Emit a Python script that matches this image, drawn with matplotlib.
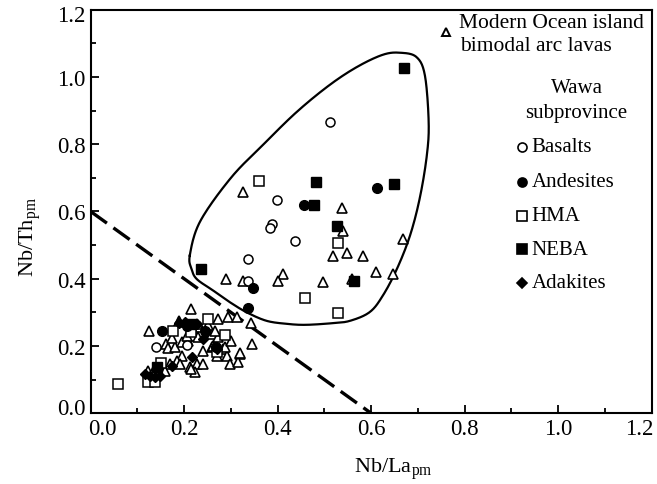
import numpy as np
import matplotlib
matplotlib.use("Agg")
import matplotlib.pyplot as plt
import matplotlib.transforms as mtransforms

plt.rcParams['font.family'] = ['Liberation Serif', 'DejaVu Serif']
plt.rcParams['mathtext.fontset'] = 'custom'
plt.rcParams['mathtext.rm'] = 'Liberation Serif'
plt.rcParams['mathtext.it'] = 'Liberation Serif:italic'

# --- data (Nb/La_pm, Nb/Th_pm) ---
arc_x = [0.325, 0.537, 0.540, 0.669, 0.519, 0.548, 0.583, 0.610, 0.647, 0.558,
         0.412, 0.401, 0.496, 0.289, 0.325,
         0.342, 0.346, 0.215, 0.190, 0.273, 0.293, 0.312, 0.125, 0.162, 0.166,
         0.180, 0.195, 0.209, 0.219, 0.195, 0.184, 0.191, 0.216, 0.234, 0.230,
         0.259, 0.273, 0.259, 0.284, 0.291, 0.319, 0.298, 0.316, 0.227, 0.241,
         0.212, 0.223, 0.270, 0.287, 0.262, 0.170, 0.159, 0.123, 0.189, 0.227,
         0.215, 0.320, 0.250, 0.205, 0.240, 0.145, 0.135, 0.300, 0.265, 0.175]
arc_y = [0.659, 0.610, 0.543, 0.518, 0.467, 0.477, 0.467, 0.421, 0.414, 0.399,
         0.414, 0.394, 0.389, 0.399, 0.394,
         0.268, 0.206, 0.310, 0.275, 0.280, 0.285, 0.285, 0.246, 0.206, 0.193,
         0.196, 0.211, 0.216, 0.231, 0.171, 0.156, 0.147, 0.246, 0.256, 0.226,
         0.236, 0.226, 0.196, 0.191, 0.171, 0.176, 0.147, 0.152, 0.147, 0.147,
         0.137, 0.122, 0.171, 0.196, 0.201, 0.147, 0.127, 0.127, 0.270, 0.266,
         0.132, 0.179, 0.262, 0.230, 0.185, 0.120, 0.128, 0.215, 0.245, 0.225]

basalt_x = [0.512, 0.399, 0.387, 0.384, 0.436, 0.336, 0.336, 0.139, 0.206]
basalt_y = [0.865, 0.634, 0.563, 0.551, 0.511, 0.459, 0.392, 0.196, 0.202]

andesite_x = [0.457, 0.612, 0.348, 0.336, 0.153, 0.205, 0.245, 0.268]
andesite_y = [0.619, 0.670, 0.372, 0.313, 0.244, 0.260, 0.245, 0.197]

hma_x = [0.359, 0.528, 0.458, 0.528, 0.177, 0.215, 0.252, 0.287, 0.270,
         0.150, 0.123, 0.138, 0.059]
hma_y = [0.690, 0.506, 0.342, 0.297, 0.244, 0.241, 0.280, 0.233, 0.181,
         0.150, 0.092, 0.094, 0.087]

neba_x = [0.671, 0.482, 0.478, 0.649, 0.526, 0.563, 0.237, 0.141, 0.215]
neba_y = [1.027, 0.687, 0.619, 0.681, 0.558, 0.392, 0.428, 0.137, 0.265]

adakite_x = [0.116, 0.127, 0.138, 0.148, 0.173, 0.216, 0.270, 0.241, 0.247,
             0.202, 0.189, 0.227]
adakite_y = [0.117, 0.112, 0.107, 0.112, 0.142, 0.166, 0.191, 0.221, 0.243,
             0.272, 0.268, 0.266]

# field outline of the modern arc lavas
env_x = [0.212, 0.216, 0.227, 0.262, 0.298, 0.334, 0.376, 0.419, 0.460, 0.518,
         0.555, 0.597, 0.625, 0.655, 0.683, 0.704, 0.719, 0.723, 0.715, 0.697,
         0.662, 0.625, 0.570, 0.510, 0.440, 0.370, 0.300, 0.234]
env_y = [0.469, 0.429, 0.399, 0.365, 0.330, 0.300, 0.275, 0.266, 0.263, 0.268,
         0.275, 0.301, 0.350, 0.429, 0.528, 0.640, 0.766, 0.865, 1.004, 1.059,
         1.072, 1.066, 1.030, 0.975, 0.895, 0.800, 0.700, 0.570]

# dividing line
div_x = [0.0, 0.6]
div_y = [0.6, 0.0]

ticks = [0.0, 0.2, 0.4, 0.6, 0.8, 1.0, 1.2]
tick_labels = ['0.0', '0.2', '0.4', '0.6', '0.8', '1.0', '1.2']


def closed_spline(x, y, n=20):
    # Catmull-Rom through the outline points, closed
    p = np.column_stack([x, y])
    m = len(p)
    out = []
    for i in range(m):
        p0, p1, p2, p3 = p[i - 1], p[i], p[(i + 1) % m], p[(i + 2) % m]
        t = np.linspace(0, 1, n, endpoint=False)[:, None]
        seg = 0.5 * ((2 * p1) + (-p0 + p2) * t +
                     (2 * p0 - 5 * p1 + 4 * p2 - p3) * t ** 2 +
                     (-p0 + 3 * p1 - 3 * p2 + p3) * t ** 3)
        out.append(seg)
    out.append(p[:1])
    out = np.vstack(out)
    return out[:, 0], out[:, 1]


fig = plt.figure(figsize=(6.57, 4.85), dpi=100)
ax = fig.add_axes([0.138, 0.1458, 0.8539, 0.8322])

ex, ey = closed_spline(env_x, env_y)
ax.plot(ex, ey, color='black', lw=1.6, zorder=2)
ax.plot(div_x, div_y, color='black', lw=2.4, dashes=(6, 2.4), zorder=2)

ms = 7
ax.plot(arc_x, arc_y, '^', ms=ms, mfc='white', mec='black', mew=1.2, ls='none', zorder=3)
ax.plot(basalt_x, basalt_y, 'o', ms=ms - 0.5, mfc='white', mec='black', mew=1.1, ls='none', zorder=4)
ax.plot(hma_x, hma_y, 's', ms=ms - 0.5, mfc='white', mec='black', mew=1.1, ls='none', zorder=4)
ax.plot(andesite_x, andesite_y, 'o', ms=ms, color='black', ls='none', zorder=5)
ax.plot(neba_x, neba_y, 's', ms=ms - 0.5, color='black', ls='none', zorder=5)
ax.plot(adakite_x, adakite_y, 'D', ms=ms - 1.5, color='black', ls='none', zorder=5)

ax.set_xlim(0.0, 1.2)
ax.set_ylim(0.0, 1.2)
ax.set_xticks(ticks, tick_labels)
ax.set_yticks(ticks, tick_labels)
ax.set_xticks(np.arange(0.1, 1.2, 0.2), minor=True)
ax.set_yticks(np.arange(0.1, 1.2, 0.2), minor=True)
ax.tick_params(which='both', direction='in', labelsize=16.5, width=1.3)
ax.tick_params(which='major', length=6)
ax.tick_params(which='minor', length=3.5)
for s in ax.spines.values():
    s.set_linewidth(1.5)

# end labels sit a little inside, as in the original
xl = ax.get_xticklabels()
yl = ax.get_yticklabels()
xl[0].set_transform(xl[0].get_transform() + mtransforms.ScaledTranslation(0.12, 0, fig.dpi_scale_trans))
xl[-1].set_transform(xl[-1].get_transform() + mtransforms.ScaledTranslation(-0.12, 0, fig.dpi_scale_trans))
yl[0].set_transform(yl[0].get_transform() + mtransforms.ScaledTranslation(0, 0.07, fig.dpi_scale_trans))
yl[-1].set_transform(yl[-1].get_transform() + mtransforms.ScaledTranslation(0, -0.03, fig.dpi_scale_trans))

ax.set_xlabel(r'Nb/La$_{\mathrm{pm}}$', fontsize=16)
ax.set_ylabel(r'Nb/Th$_{\mathrm{pm}}$', fontsize=16)
ax.xaxis.set_label_coords(0.54, -0.105)
ax.yaxis.set_label_coords(-0.085, 0.44)

# legend drawn as text
tr = ax.transAxes
ax.plot([0.634], [0.945], '^', ms=6, mfc='white', mec='black', mew=1.4, transform=tr, clip_on=False)
ax.text(0.656, 0.968, 'Modern Ocean island', fontsize=15.5, va='center', ha='left', transform=tr)
ax.text(0.658, 0.910, 'bimodal arc lavas', fontsize=15.5, va='center', ha='left', transform=tr)
ax.text(0.866, 0.808, 'Wawa', fontsize=15, va='center', ha='center', transform=tr)
ax.text(0.866, 0.745, 'subprovince', fontsize=15, va='center', ha='center', transform=tr)

leg_labels = ['Basalts', 'Andesites', 'HMA', 'NEBA', 'Adakites']
leg_marks = ['o', 'o', 's', 's', 'D']
leg_fill = ['white', 'black', 'white', 'black', 'black']
leg_y = [0.660, 0.574, 0.490, 0.406, 0.323]
for lab, mk, fc, yy in zip(leg_labels, leg_marks, leg_fill, leg_y):
    ax.plot([0.768], [yy], mk, ms=6.5 if mk != 'D' else 5.5, mfc=fc, mec='black', mew=1.2,
            transform=tr, clip_on=False)
    ax.text(0.786, yy, lab, fontsize=15, va='center', ha='left', transform=tr)

fig.savefig('out.png', dpi=100)
